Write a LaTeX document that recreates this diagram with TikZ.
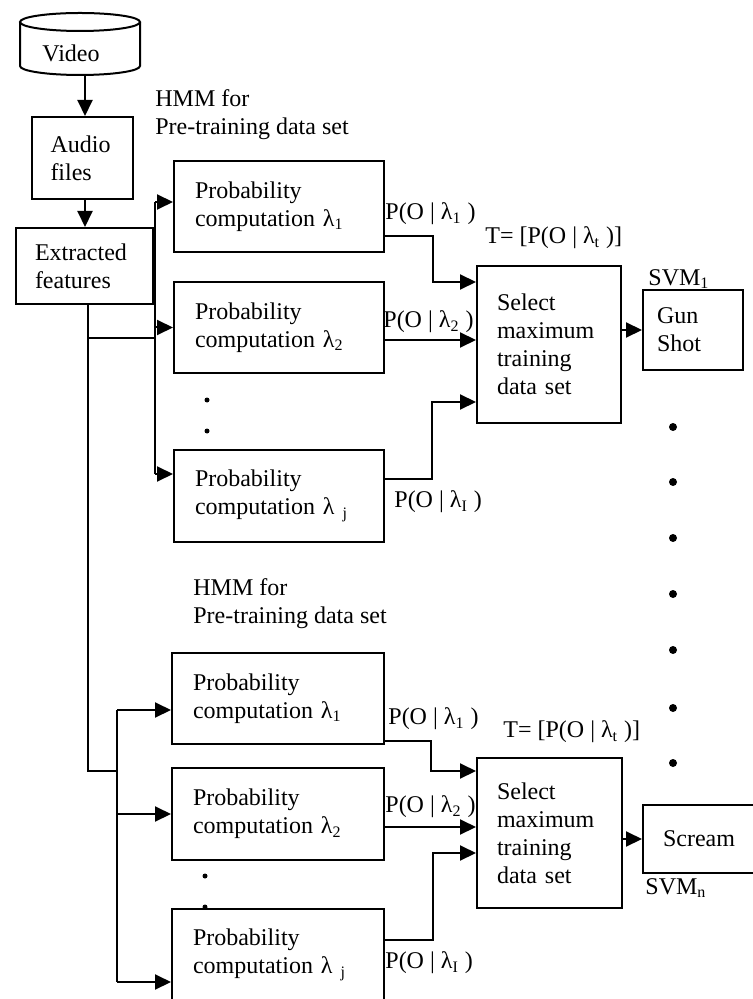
\documentclass[tikz,border=0pt]{standalone}
\usepackage{fontspec}
\setmainfont{Liberation Serif}
\usetikzlibrary{arrows.meta}

\tikzset{
  box/.style={draw,line width=1pt,align=left,inner ysep=0pt},
  conn/.style={line width=1pt,-{Triangle[length=8pt,width=7.5pt]}},
  bus/.style={line width=0.6pt},
  lbl/.style={inner sep=0pt,anchor=west}
}

\begin{document}
\begin{tikzpicture}[x=0.5pt,y=-0.5pt,font=\fontsize{12}{14}\selectfont]
\useasboundingbox (0,0) rectangle (753,999);
\clip (0,0) rectangle (753,999);

% source
\draw[line width=1pt] (80,22) ellipse [x radius=60, y radius=9];
\draw[line width=1pt] (20,22) -- (20,66) arc[start angle=180, end angle=0, x radius=60, y radius=9] -- (140,22);
\node (video) at (71,53) {Video};
\coordinate (vbot) at (85,75);
\node[box,minimum width=50.5pt,minimum height=41pt,text width=32pt,inner xsep=9.25pt] (audio) at (82.5,158) {Audio\\files};
\node[box,minimum width=68.5pt,minimum height=38pt,text width=49.5pt,inner xsep=9.5pt] (extracted) at (84.5,266) {Extracted\\features};

\draw[conn] (vbot) -- (vbot |- audio.north);
\draw[conn] (audio.south -| vbot) -- (vbot |- extracted.north);

% upper HMM
\node[lbl,align=left] (hmma) at (155,115) {HMM for\\Pre-training data set};
\node[box,minimum width=105pt,minimum height=45.5pt,text width=84pt,inner xsep=10.5pt] (prob1) at (279,206.5) {Probability\\computation λ\textsubscript{1}};
\node[box,minimum width=105pt,minimum height=45.5pt,text width=84pt,inner xsep=10.5pt] (prob2) at (279,327.5) {Probability\\computation λ\textsubscript{2}};
\node[box,minimum width=105pt,minimum height=46pt,text width=84pt,inner xsep=10.5pt] (probj) at (279,496) {Probability\\computation λ\textsubscript{ j}};
\node[box,minimum width=72pt,minimum height=78.5pt,text width=52pt,inner xsep=10pt] (sel1) at (549,344.5) {Select\\maximum\\training\\data set};
\node[box,minimum width=50pt,minimum height=40pt,text width=36pt,inner xsep=7pt] (gun) at (693,330) {Gun\\Shot};

\fill (207,400) circle[radius=2.5];
\fill (207,431) circle[radius=2.5];

% lower HMM
\node[lbl,align=left] (hmmb) at (193,604) {HMM for\\Pre-training data set};
\node[box,minimum width=106pt,minimum height=45.5pt,text width=85pt,inner xsep=10.5pt] (prob1b) at (278,698.5) {Probability\\computation λ\textsubscript{1}};
\node[box,minimum width=106pt,minimum height=46pt,text width=85pt,inner xsep=10.5pt] (prob2b) at (278,814) {Probability\\computation λ\textsubscript{2}};
\node[box,minimum width=106pt,minimum height=46pt,text width=85pt,inner xsep=10.5pt] (probjb) at (278,955) {Probability\\computation λ\textsubscript{ j}};
\node[box,minimum width=72.5pt,minimum height=75pt,text width=52.5pt,inner xsep=10pt] (sel2) at (549.5,833) {Select\\maximum\\training\\data set};
\node[box,minimum width=60pt,minimum height=34pt,text width=40pt,inner xsep=10pt] (scream) at (703,839) {Scream};

\fill (205,876) circle[radius=2.5];
\fill (205,907) circle[radius=2.5];

% feature buses
\coordinate (trunk) at (88,338);
\coordinate (trunkb) at (88,771);
\coordinate (busa) at (155,338);
\coordinate (busb) at (117,771);
\draw[bus] (extracted.south -| trunk) -- (trunkb) -- (busb);
\draw[bus] (trunk) -- (busa);

\coordinate (in1) at ([yshift=2.25pt]prob1.west);
\coordinate (in2) at (prob2.west);
\coordinate (inj) at ([yshift=11pt]probj.west);
\draw[line width=1pt] (in1 -| busa) -- (inj -| busa);
\draw[conn] (in1 -| busa) -- (in1);
\draw[conn] (in2 -| busa) -- (in2);
\draw[conn] (inj -| busa) -- (inj);

\coordinate (in1b) at ([yshift=-5.75pt]prob1b.west);
\coordinate (in2b) at (prob2b.west);
\coordinate (injb) at ([yshift=-13.5pt]probjb.west);
\draw[line width=1pt] (in1b -| busb) -- (injb -| busb);
\draw[conn] (in1b -| busb) -- (in1b);
\draw[conn] (in2b -| busb) -- (in2b);
\draw[conn] (injb -| busb) -- (injb);

% outputs to selection
\draw[conn] ([yshift=-14.75pt]prob1.east) -- ++(48,0) |- ([yshift=31.25pt]sel1.west);
\coordinate (o2) at ([yshift=-6.25pt]prob2.east);
\draw[conn] (o2) -- (o2 -| sel1.west);
\draw[conn] ([yshift=8.5pt]probj.east) -- ++(47,0) |- ([yshift=-28.75pt]sel1.west);
\draw[conn] (sel1.east |- gun.west) -- (gun.west);

\draw[conn] ([yshift=-21.25pt]prob1b.east) -- ++(46,0) |- ([yshift=31pt]sel2.west);
\coordinate (o2b) at ([yshift=-6.5pt]prob2b.east);
\draw[conn] (o2b) -- (o2b -| sel2.west);
\draw[conn] ([yshift=7.5pt]probjb.east) -- ++(48,0) |- ([yshift=-10pt]sel2.west);
\draw[conn] (sel2.east |- scream.west) -- (scream.west);

% labels
\node[lbl] (pa1) at (385,214) {P(O | λ\textsubscript{1} )};
\node[lbl] (pa2) at (383,322) {P(O | λ\textsubscript{2} )};
\node[lbl] (paj) at (394,502) {P(O | λ\textsubscript{I} )};
\node[lbl] (ta) at (485,238) {T= [P(O | λ\textsubscript{t} )]};
\node[lbl] (svma) at (648,279) {SVM\textsubscript{1}};
\node[lbl] (pb1) at (388,719) {P(O | λ\textsubscript{1} )};
\node[lbl] (pb2) at (385,807) {P(O | λ\textsubscript{2} )};
\node[lbl] (pbj) at (385,963) {P(O | λ\textsubscript{I} )};
\node[lbl] (tb) at (503,732) {T= [P(O | λ\textsubscript{t} )]};
\node[lbl] (svmb) at (645,888) {SVM\textsubscript{n}};

% classifier dots
\foreach \y in {427,482,538,594,650,708,763}
  \fill (673,\y) circle[radius=4];
\end{tikzpicture}
\end{document}
